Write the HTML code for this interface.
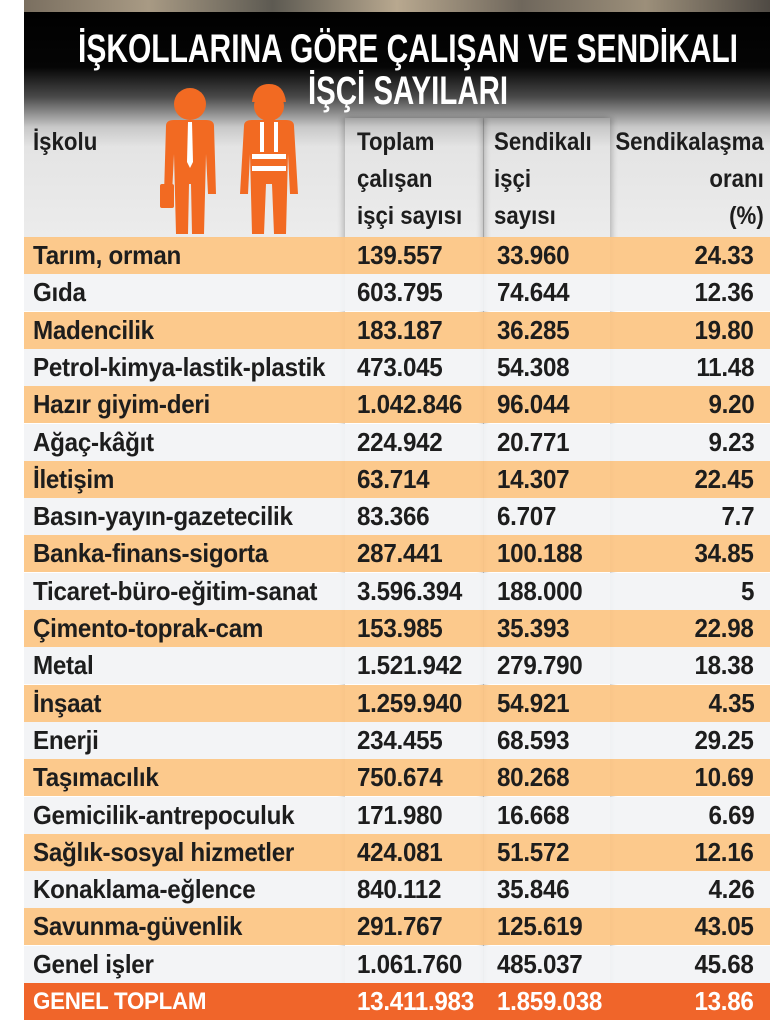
<!DOCTYPE html>
<html><head><meta charset="utf-8">
<style>
body{margin:0;width:770px;height:1029px;background:#fff;overflow:hidden;position:relative;font-family:"Liberation Sans Narrow","Liberation Sans",sans-serif;}
#photo{position:absolute;left:24px;top:0;width:746px;height:14px;background:linear-gradient(90deg,#7a6f60,#a89a84,#5d5a52,#b8a88f,#6f675c,#9c8f7a,#4f4a44);}
#band{position:absolute;left:24px;top:12px;width:746px;height:226px;background:linear-gradient(180deg,#000 0px,#050505 55px,#4a4a4a 85px,#c8c8c8 115px,#e4e4e4 135px,#ececec 226px);}
.col{position:absolute;top:118px;height:894px;box-shadow:-3px 0 5px rgba(0,0,0,0.18),3px 0 5px rgba(0,0,0,0.18);}
.h{position:absolute;font-weight:bold;font-size:25px;color:#1d1d1d;line-height:37px;white-space:nowrap;transform:scaleX(0.89);transform-origin:left top;}
.row{position:absolute;left:24px;width:746px;height:37px;}
.c{position:absolute;top:0;line-height:37px;font-weight:bold;font-size:26px;color:#1d1d1d;white-space:nowrap;letter-spacing:-0.3px;transform:scaleX(0.93);transform-origin:left center;}
</style></head><body>
<div id="photo"></div>
<div id="band"></div>
<div class="col" style="left:345px;width:138px;"></div>
<div class="col" style="left:484px;width:126px;"></div>
<svg width="770" height="120" style="position:absolute;left:0;top:0">
<text x="408" y="62" text-anchor="middle" textLength="660" lengthAdjust="spacingAndGlyphs" font-family="Liberation Sans Narrow, Liberation Sans, sans-serif" font-weight="bold" font-size="40" fill="#fff">İŞKOLLARINA GÖRE ÇALIŞAN VE SENDİKALI</text>
<text x="408" y="104" text-anchor="middle" textLength="200" lengthAdjust="spacingAndGlyphs" font-family="Liberation Sans Narrow, Liberation Sans, sans-serif" font-weight="bold" font-size="40" fill="#fff">İŞÇİ SAYILARI</text>
</svg>
<svg width="160" height="155" style="position:absolute;left:158px;top:84px">
<g fill="#f26a22">
<circle cx="32" cy="20" r="16"/>
<path d="M8 42 Q8 36 16 36 L48 36 Q56 36 56 42 L58 110 L50 110 L48 70 L46 150 L34 150 L33 100 L31 100 L30 150 L18 150 L16 70 L14 110 L6 110 Z"/>
<rect x="2" y="100" width="14" height="24" rx="2"/>
<circle cx="111" cy="22" r="15"/>
<path d="M94 18 Q96 0 111 0 Q126 0 128 18 Z"/>
<path d="M86 42 Q86 36 94 36 L128 36 Q136 36 136 42 L140 110 L132 110 L130 70 L128 150 L116 150 L114 100 L108 100 L106 150 L94 150 L92 70 L90 110 L82 110 Z"/>
</g>
<g fill="#fff"><path d="M30 38 L34 38 L35 78 L32 84 L29 78 Z"/>
<rect x="94" y="70" width="34" height="5"/><rect x="94" y="82" width="34" height="5"/>
<rect x="102" y="38" width="4" height="30"/><rect x="116" y="38" width="4" height="30"/></g>
</svg>
<div class="h" style="left:33px;top:124px">İşkolu</div>
<div class="h" style="left:357px;top:124px">Toplam<br>çalışan<br>işçi sayısı</div>
<div class="h" style="left:494px;top:124px">Sendikalı<br>işçi<br>sayısı</div>
<div class="h" style="right:6px;top:124px;text-align:right;transform-origin:right top">Sendikalaşma<br>oranı<br>(%)</div>
<div id="rows"></div>
<script>
const sectors=["Tarım, orman","Gıda","Madencilik","Petrol-kimya-lastik-plastik","Hazır giyim-deri","Ağaç-kâğıt","İletişim","Basın-yayın-gazetecilik","Banka-finans-sigorta","Ticaret-büro-eğitim-sanat","Çimento-toprak-cam","Metal","İnşaat","Enerji","Taşımacılık","Gemicilik-antrepoculuk","Sağlık-sosyal hizmetler","Konaklama-eğlence","Savunma-güvenlik","Genel işler"];
const totals=["139.557","603.795","183.187","473.045","1.042.846","224.942","63.714","83.366","287.441","3.596.394","153.985","1.521.942","1.259.940","234.455","750.674","171.980","424.081","840.112","291.767","1.061.760"];
const unions=["33.960","74.644","36.285","54.308","96.044","20.771","14.307","6.707","100.188","188.000","35.393","279.790","54.921","68.593","80.268","16.668","51.572","35.846","125.619","485.037"];
const rates=["24.33","12.36","19.80","11.48","9.20","9.23","22.45","7.7","34.85","5","22.98","18.38","4.35","29.25","10.69","6.69","12.16","4.26","43.05","45.68"];
const totalRow=["GENEL TOPLAM","13.411.983","1.859.038","13.86"];
const rowsEl=document.getElementById('rows');
const top0=237,rh=37.3;
function cell(row,txt,style){const d=document.createElement('div');d.className='c';d.textContent=txt;Object.assign(d.style,style);row.appendChild(d);return d;}
function makeRow(i,vals,bg,color,fs){
 const r=document.createElement('div');r.className='row';
 
 
 r.style.top=(top0+i*rh)+'px';r.style.background=bg;
 const a=cell(r,vals[0],{left:'9px',color:color,fontSize:fs});
 
 
 const b=cell(r,vals[1],{left:'333px',color:color});
 
 
 const c=cell(r,vals[2],{left:'473px',color:color});
 
 
 const e=cell(r,vals[3],{right:'16px',color:color,transformOrigin:'right center'});
 
 
 rowsEl.appendChild(r);
}
sectors.forEach((s,i)=>makeRow(i,[s,totals[i],unions[i],rates[i]],i%2===0?'rgba(252,196,130,0.92)':'rgba(242,243,245,0.92)','#1d1d1d','26px'));
makeRow(20,totalRow,'#f0652a','#fff','24px');
</script>
</body></html>
